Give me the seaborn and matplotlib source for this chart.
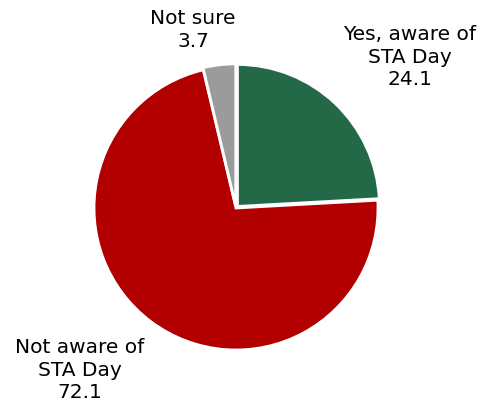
import matplotlib
matplotlib.use("Agg")
import matplotlib.pyplot as plt
import seaborn as sns

sns.set_theme(style="white")
plt.rcParams['font.family'] = ['DejaVu Sans']

categories = ["Yes, aware of\nSTA Day", "Not aware of\nSTA Day", "Not sure"]
values = [24.1, 72.1, 3.7]
colors = ["#236847", "#B20000", "#9B9B9B"]

fig = plt.figure(figsize=(4.83, 4.15), dpi=100)
ax = fig.add_axes([94 / 483, 65 / 415, 284 / 483, 284 / 415])

ax.pie(values, colors=colors, startangle=90, counterclock=False,
       explode=[0.015, 0.0, 0.015],
       wedgeprops=dict(edgecolor="white", linewidth=2))
ax.set_xlim(-1, 1)
ax.set_ylim(-1, 1)
ax.set_aspect("equal")

label_pos = [(1.225, 1.063), (-1.099, -1.141), (-0.303, 1.254)]
for name, v, (x, y) in zip(categories, values, label_pos):
    ax.text(x, y, f"{name}\n{v}", ha="center", va="center",
            fontsize=14.5, color="black", linespacing=1.25, clip_on=False)

fig.savefig("out.png", dpi=100)
